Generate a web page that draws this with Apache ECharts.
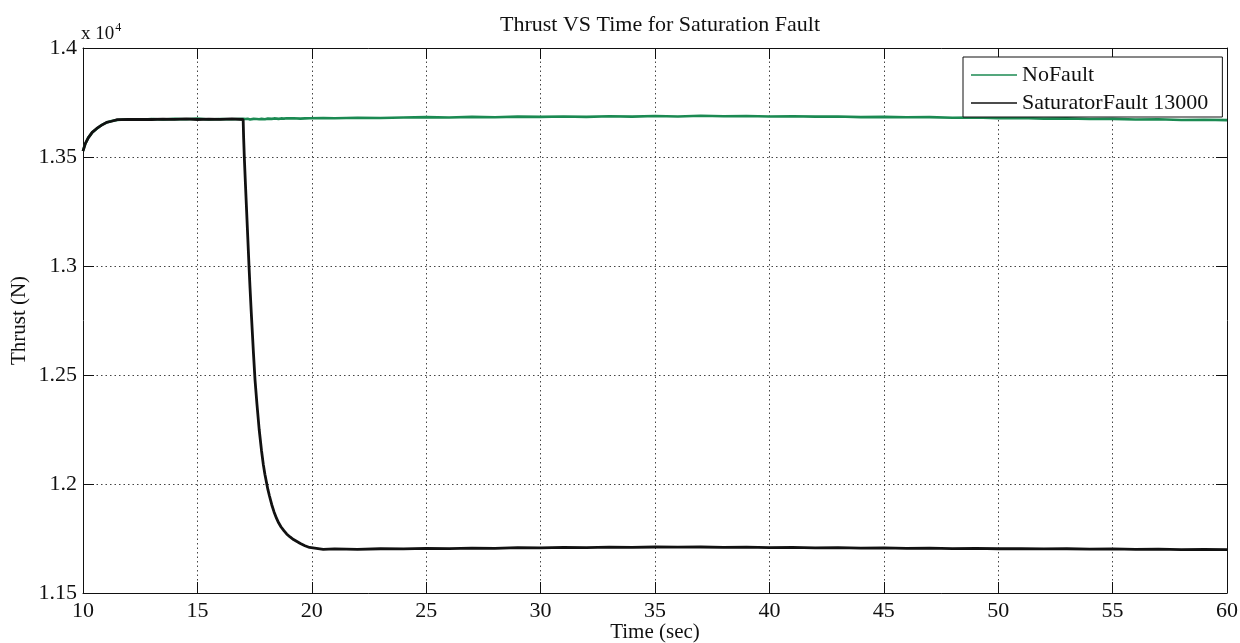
<!DOCTYPE html>
<html>
<head>
<meta charset="utf-8">
<title>Thrust VS Time for Saturation Fault</title>
<script src="https://cdn.jsdelivr.net/npm/echarts@6/dist/echarts.min.js"></script>
<style>
  html, body { margin: 0; padding: 0; background: #fff; }
  #chart { width: 1240px; height: 643px; }
</style>
</head>
<body>
<div id="chart"></div>
<script>
// Sample times (s)
const timeSec = [
  10, 10.1, 10.23, 10.4, 10.6, 10.8, 11.03, 11.25, 11.5, 12, 12.5, 13, 13.5, 14, 14.5, 15, 15.5, 16, 16.5, 17,
  17.02, 17.05, 17.1, 17.15, 17.2, 17.26, 17.3, 17.35, 17.45, 17.52,
  17.6, 17.7, 17.8, 17.88, 17.95, 18.08, 18.15, 18.25, 18.35, 18.46,
  18.55, 18.65, 18.78, 18.9, 19.05, 19.2, 19.5, 19.7, 19.9, 20.5,
  21, 22, 23, 24, 25, 26, 27, 28, 29, 30, 31, 32, 33, 34, 35, 36, 37, 38, 39, 40,
  41, 42, 43, 44, 45, 46, 47, 48, 49, 50, 51, 52, 53, 54, 55, 56, 57, 58, 59, 60
];

// Thrust without fault (N)
const noFault = [
  13528, 13560, 13589, 13612, 13630, 13646, 13658, 13665, 13670, 13673, 13671, 13674, 13672, 13675, 13673, 13676, 13672, 13674, 13673, 13675,
  13673, 13672, 13674, 13673, 13675, 13673, 13672, 13674, 13675, 13673,
  13674, 13673, 13675, 13674, 13673, 13676, 13674, 13675, 13677, 13676,
  13675, 13677, 13676, 13678, 13677, 13678, 13676, 13677, 13678, 13679,
  13678, 13680, 13679, 13681, 13683, 13681, 13684, 13682, 13685, 13684, 13686, 13684, 13687, 13685, 13688, 13686, 13689, 13687, 13688, 13686,
  13687, 13685, 13686, 13683, 13684, 13682, 13683, 13680, 13681, 13678, 13679, 13676, 13677, 13674, 13675, 13672, 13673, 13670, 13671, 13669
];

// Thrust with saturator fault at 13000 (N)
const saturatorFault = [
  13527, 13561, 13588, 13613, 13631, 13645, 13659, 13664, 13671, 13672, 13673, 13672, 13674, 13673, 13675, 13672, 13674, 13673, 13675, 13672,
  13590, 13500, 13375, 13255, 13135, 12990, 12900, 12795, 12600, 12475,
  12370, 12250, 12155, 12090, 12045, 11975, 11945, 11905, 11872, 11842,
  11822, 11804, 11786, 11771, 11757, 11745, 11727, 11717, 11709, 11700,
  11702, 11700, 11703, 11702, 11705, 11704, 11706, 11705, 11708, 11707, 11709, 11708, 11710, 11709, 11711, 11710, 11711, 11709, 11710, 11708,
  11709, 11707, 11708, 11706, 11707, 11705, 11706, 11704, 11705, 11703, 11704, 11702, 11703, 11701, 11702, 11700, 11701, 11699, 11700, 11699
];

const seriesNames = ['NoFault', 'SaturatorFault 13000'];
const seriesColors = ['#1b8a52', '#111111'];

const FONT = 'Liberation Serif';
const TXT = '#111';

const chart = echarts.init(document.getElementById('chart'), null, { renderer: 'canvas' });

const pairs = arr => timeSec.map((t, i) => [t, arr[i]]);

const gridLine = { show: true, lineStyle: { color: '#444', type: [1.5, 3], width: 1 } };

chart.setOption({
  backgroundColor: '#fff',
  animation: false,
  title: {
    text: 'Thrust VS Time for Saturation Fault',
    left: 655,
    top: 9,
    textAlign: 'center',
    textStyle: { fontFamily: FONT, fontSize: 22, fontWeight: 'normal', color: TXT }
  },
  legend: {
    data: seriesNames,
    orient: 'vertical',
    left: 963,
    top: 57,
    icon: 'rect',
    itemWidth: 46,
    itemHeight: 1.5,
    itemGap: 6,
    padding: [7, 14, 3, 8],
    backgroundColor: '#fff',
    borderColor: '#111',
    borderWidth: 1,
    borderRadius: 0,
    textStyle: { fontFamily: FONT, fontSize: 22, color: TXT, lineHeight: 20 }
  },
  grid: { left: 83, right: 13, top: 48, bottom: 50, outerBoundsMode: 'none', containLabel: false },
  graphic: [{
    type: 'text',
    left: 81,
    top: 22,
    style: {
      text: '{b|x 10}{s|4}',
      rich: {
        b: { fontFamily: FONT, fontSize: 19, fill: TXT, verticalAlign: 'bottom' },
        s: { fontFamily: FONT, fontSize: 12, fill: TXT, verticalAlign: 'top', padding: [0, 0, 10, 1] }
      }
    }
  }],
  xAxis: [{
    type: 'value',
    min: 10, max: 60, interval: 5,
    position: 'bottom',
    name: 'Time (sec)',
    nameLocation: 'middle',
    nameGap: 29,
    nameMoveOverlap: false,
    nameTextStyle: { fontFamily: FONT, fontSize: 21, color: TXT },
    axisLine: { show: true, onZero: false, lineStyle: { color: '#111', width: 1 } },
    axisTick: { show: true, inside: true, length: 11, lineStyle: { color: '#111' } },
    axisLabel: { fontFamily: FONT, fontSize: 22, color: TXT, margin: 7 },
    splitLine: gridLine
  }, {
    type: 'value',
    min: 10, max: 60, interval: 5,
    position: 'top',
    axisLine: { show: true, onZero: false, lineStyle: { color: '#111', width: 1 } },
    axisTick: { show: true, inside: true, length: 11, lineStyle: { color: '#111' } },
    axisLabel: { show: false },
    splitLine: { show: false }
  }],
  yAxis: [{
    type: 'value',
    min: 11500, max: 14000, interval: 500,
    position: 'left',
    name: 'Thrust (N)',
    nameLocation: 'middle',
    nameGap: 53,
    nameMoveOverlap: false,
    nameTextStyle: { fontFamily: FONT, fontSize: 21, color: TXT },
    axisLine: { show: true, onZero: false, lineStyle: { color: '#111', width: 1 } },
    axisTick: { show: true, inside: true, length: 11, lineStyle: { color: '#111' } },
    axisLabel: {
      fontFamily: FONT, fontSize: 22, color: TXT, margin: 6,
      formatter: v => String(+(v / 10000).toFixed(2))
    },
    splitLine: gridLine
  }, {
    type: 'value',
    min: 11500, max: 14000, interval: 500,
    position: 'right',
    axisLine: { show: true, onZero: false, lineStyle: { color: '#111', width: 1 } },
    axisTick: { show: true, inside: true, length: 11, lineStyle: { color: '#111' } },
    axisLabel: { show: false },
    splitLine: { show: false }
  }],
  series: [{
    name: seriesNames[0],
    type: 'line',
    data: pairs(noFault),
    showSymbol: false,
    symbol: 'none',
    itemStyle: { color: seriesColors[0] },
    lineStyle: { color: seriesColors[0], width: 2.6 }
  }, {
    name: seriesNames[1],
    type: 'line',
    data: pairs(saturatorFault),
    showSymbol: false,
    symbol: 'none',
    itemStyle: { color: seriesColors[1] },
    lineStyle: { color: seriesColors[1], width: 2.8 }
  }]
});
</script>
</body>
</html>
